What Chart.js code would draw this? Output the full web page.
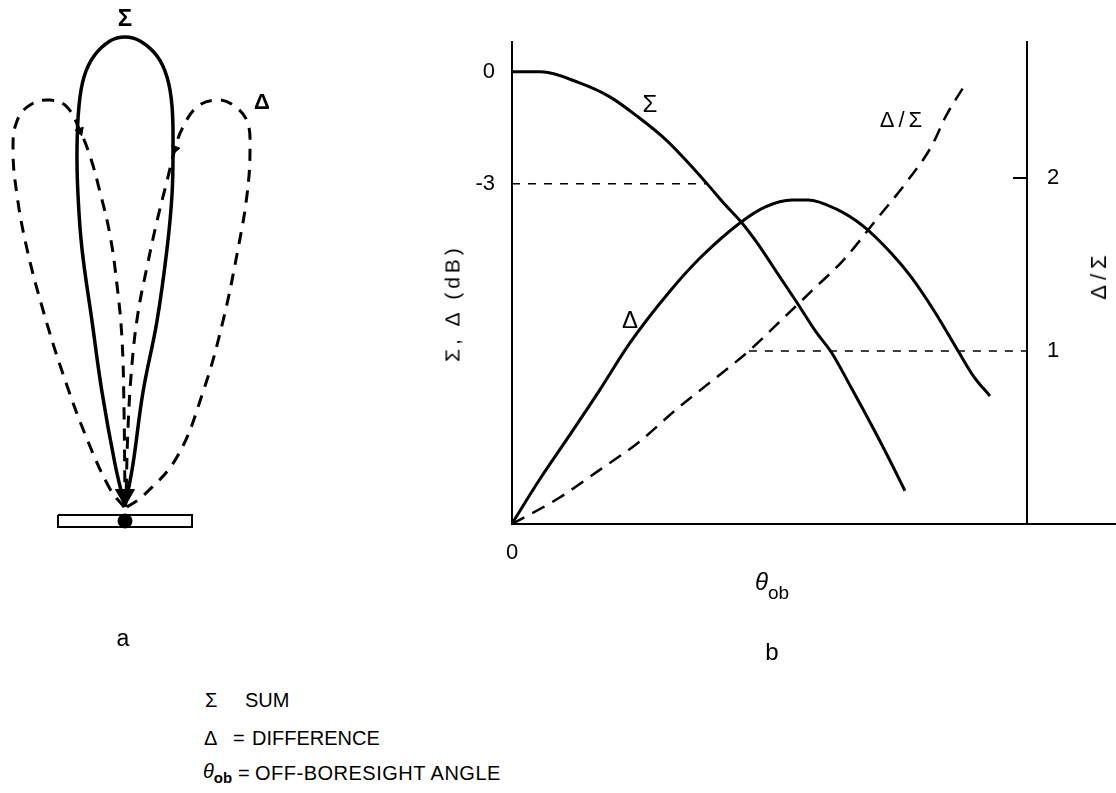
<!DOCTYPE html>
<html>
<head>
<meta charset="utf-8">
<script src="https://cdn.jsdelivr.net/npm/chart.js@4.4.0/dist/chart.umd.min.js"></script>
<style>
  html, body { margin: 0; padding: 0; background: #fff; }
  body { width: 1116px; height: 793px; position: relative; overflow: hidden;
         font-family: "Liberation Sans", Arial, sans-serif; color: #000; }
  canvas { position: absolute; }
  #lobes { left: 0; top: 0; }
  #curves { left: 380px; top: 0; }
  .t { position: absolute; transform: translate(-50%, -50%); white-space: nowrap; line-height: 1; }
  .l { position: absolute; white-space: nowrap; line-height: 1; font-size: 20px; }
  .rot { transform: translate(-50%, -50%) rotate(-90deg); }
</style>
</head>
<body>
<canvas id="lobes" width="300" height="560"></canvas>
<canvas id="curves" width="736" height="620"></canvas>

<!-- panel a labels -->
<div class="t" style="left:125px;top:18px;font-size:24px;font-weight:bold">Σ</div>
<div class="t" style="left:262px;top:102px;font-size:22px;font-weight:bold">Δ</div>
<div class="t" style="left:123px;top:638px;font-size:23px">a</div>

<!-- panel b labels -->
<div class="t" style="left:650px;top:104px;font-size:24px">Σ</div>
<div class="t" style="left:630px;top:320px;font-size:24px">Δ</div>
<div class="t" style="left:903px;top:120px;font-size:22px;letter-spacing:4px">Δ/Σ</div>
<div class="t rot" style="left:452px;top:303px;font-size:21px;letter-spacing:4px">Σ, Δ (dB)</div>
<div class="t rot" style="left:1099px;top:275px;font-size:22px;letter-spacing:5px">Δ/Σ</div>
<div class="t" style="left:772px;top:584px;font-size:24px"><i>θ</i><sub style="font-size:19px;position:relative;top:3px">ob</sub></div>
<div class="t" style="left:772px;top:652px;font-size:24px">b</div>

<!-- key -->
<div class="l" style="left:205px;top:690px">Σ</div>
<div class="l" style="left:245px;top:690px">SUM</div>
<div class="l" style="left:204px;top:728px">Δ</div>
<div class="l" style="left:233px;top:728px">=</div>
<div class="l" style="left:252px;top:728px">DIFFERENCE</div>
<div class="l" style="left:203px;top:761px"><i>θ</i><sub style="font-size:15px;font-weight:bold">ob</sub></div>
<div class="l" style="left:238px;top:763px">=</div>
<div class="l" style="left:255px;top:763px;letter-spacing:0.5px">OFF-BORESIGHT ANGLE</div>

<script>
// ---- panel a: antenna patterns (units: px beside / above the antenna) ----
const sigmaLobeX = [0, 8, 18, 32, 42, 47, 48, 47, 42, 32, 15, 0, -15, -31, -41, -46, -48, -47, -43, -33, -23, -10, 0];
const sigmaLobeY = [14, 57, 129, 200, 272, 326, 372, 415, 444, 465, 480, 484, 480, 465, 444, 415, 372, 326, 272, 200, 129, 57, 14];

const deltaLeftX = [-1, -15, -38, -62, -82, -98, -108, -112, -108, -95, -75, -58, -45, -35, -25, -15, -8, -3, -1, 0];
const deltaLeftY = [14, 32, 82, 147, 211, 272, 326, 372, 400, 416, 421, 414, 390, 365, 329, 286, 236, 182, 111, 21];

const deltaRightX = [2, 18, 52, 78, 98, 113, 122, 125, 122, 108, 92, 72, 57, 50, 42, 32, 22, 13, 7, 3, 1];
const deltaRightY = [14, 25, 64, 129, 200, 272, 326, 372, 400, 416, 421, 414, 392, 372, 340, 300, 254, 208, 157, 93, 21];

const antennaX = [-67, 67, 67, -67, -67];
const antennaY = [6, 6, -6, -6, 6];

// arrow heads
const arrowX = [0, -45, 50];
const arrowY = [26, 390, 372];
const arrowRot = [180, 160, 200];
const arrowSize = [11, 5, 5];

// ---- panel b: Σ, Δ (dB) and Δ/Σ vs θob ----
const sumTheta = [0, 0.56, 1.30, 1.90, 2.45, 2.99, 3.44, 3.79, 4.14, 4.45, 4.76, 5.20, 5.51, 5.90, 6.21, 6.58, 7.05, 7.36, 7.63];
const sumDb = [0, 0, -0.29, -0.67, -1.21, -1.82, -2.46, -3.0, -3.56, -4.02, -4.58, -5.49, -6.13, -6.96, -7.53, -8.44, -9.64, -10.47, -11.22];

const diffTheta = [0, 0.53, 1.07, 1.69, 2.29, 3.07, 3.67, 4.45, 4.91, 5.44, 5.75, 6.29, 6.82, 7.36, 7.75, 8.21, 8.66, 8.97, 9.28];
const diffDb = [-12.1, -10.93, -9.83, -8.55, -7.26, -5.87, -4.96, -4.02, -3.62, -3.43, -3.43, -3.67, -4.13, -4.85, -5.49, -6.43, -7.47, -8.17, -8.68];

const ratioTheta = [0, 0.91, 1.69, 2.45, 3.22, 3.98, 4.60, 5.20, 5.83, 6.45, 7.05, 7.67, 8.14, 8.43, 8.82];
const ratioVal = [0, 0.15, 0.31, 0.47, 0.67, 0.85, 1.0, 1.17, 1.35, 1.53, 1.75, 1.98, 2.18, 2.36, 2.55];

const minus3Theta = [0, 3.79];
const minus3Db = [-3, -3];
const ratioOneTheta = [4.6, 10];
const ratioOneVal = [1, 1];

const xTicks = [0];
const leftTicks = [0, -3];
const rightTicks = [1, 2];

const FONT = '"Liberation Sans", Arial, sans-serif';
const pts = (xs, ys) => xs.map((x, i) => ({ x: x, y: ys[i] }));

Chart.defaults.animation = false;
Chart.defaults.responsive = false;
Chart.defaults.color = '#000';

// panel a
new Chart(document.getElementById('lobes'), {
  type: 'scatter',
  data: {
    datasets: [
      { data: pts(sigmaLobeX, sigmaLobeY), showLine: true, borderColor: '#000', borderWidth: 3.5, pointRadius: 0, tension: 0.4 },
      { data: pts(deltaLeftX, deltaLeftY), showLine: true, borderColor: '#000', borderWidth: 3, borderDash: [12, 9], pointRadius: 0, tension: 0.4 },
      { data: pts(deltaRightX, deltaRightY), showLine: true, borderColor: '#000', borderWidth: 3, borderDash: [12, 9], pointRadius: 0, tension: 0.4 },
      { data: pts(antennaX, antennaY), showLine: true, borderColor: '#000', borderWidth: 2, pointRadius: 0, tension: 0 },
      { data: [{ x: 0, y: 0 }], pointRadius: 7, backgroundColor: '#000', borderColor: '#000' },
      { data: pts(arrowX, arrowY), pointStyle: 'triangle', pointRotation: arrowRot, pointRadius: arrowSize,
        backgroundColor: '#000', borderColor: '#000', borderWidth: 1 }
    ]
  },
  options: {
    layout: { padding: 0, autoPadding: false },
    plugins: { legend: { display: false }, tooltip: { enabled: false } },
    scales: {
      x: { display: false, min: -125, max: 175 },
      y: { display: false, min: -39, max: 521 }
    }
  }
});

// bottom axis runs on past the right axis; inward tick at 2
const axisExtras = {
  id: 'axisExtras',
  afterDraw(chart) {
    const { ctx, chartArea } = chart;
    const y1 = chart.scales.y1;
    ctx.save();
    ctx.strokeStyle = '#000';
    ctx.lineWidth = 2;
    ctx.beginPath();
    ctx.moveTo(chartArea.right, chartArea.bottom);
    ctx.lineTo(chart.width, chartArea.bottom);
    const py = y1.getPixelForValue(2);
    ctx.moveTo(chartArea.right - 14, py);
    ctx.lineTo(chartArea.right, py);
    ctx.stroke();
    ctx.restore();
  }
};

const solid = { showLine: true, borderColor: '#000', pointRadius: 0, cubicInterpolationMode: 'monotone' };
const tickFont = { family: FONT, size: 22 };

new Chart(document.getElementById('curves'), {
  type: 'scatter',
  data: {
    datasets: [
      { ...solid, data: pts(sumTheta, sumDb), yAxisID: 'y', borderWidth: 3 },
      { ...solid, data: pts(diffTheta, diffDb), yAxisID: 'y', borderWidth: 3 },
      { ...solid, data: pts(ratioTheta, ratioVal), yAxisID: 'y1', borderWidth: 2.5, borderDash: [14, 9] },
      { ...solid, data: pts(minus3Theta, minus3Db), yAxisID: 'y', borderWidth: 1.5, borderDash: [8, 8] },
      { ...solid, data: pts(ratioOneTheta, ratioOneVal), yAxisID: 'y1', borderWidth: 1.5, borderDash: [8, 8] }
    ]
  },
  options: {
    layout: { padding: { top: 42, left: 0, right: 0, bottom: 0 }, autoPadding: false },
    plugins: { legend: { display: false }, tooltip: { enabled: false } },
    scales: {
      x: {
        type: 'linear', min: 0, max: 10,
        grid: { display: false },
        border: { display: true, color: '#000', width: 2 },
        ticks: { padding: 8, font: tickFont, color: '#000' },
        afterBuildTicks: s => { s.ticks = xTicks.map(v => ({ value: v })); },
        afterFit: s => { s.height = 96; }
      },
      y: {
        position: 'left', min: -12.11, max: 0.8,
        grid: { display: false },
        border: { display: true, color: '#000', width: 2 },
        ticks: { padding: 9, font: tickFont, color: '#000' },
        afterBuildTicks: s => { s.ticks = leftTicks.map(v => ({ value: v })); },
        afterFit: s => { s.width = 132; }
      },
      y1: {
        position: 'right', min: 0, max: 2.786,
        grid: { display: false },
        border: { display: true, color: '#000', width: 2 },
        ticks: { padding: 12, font: tickFont, color: '#000' },
        afterBuildTicks: s => { s.ticks = rightTicks.map(v => ({ value: v })); },
        afterFit: s => { s.width = 89; }
      }
    }
  },
  plugins: [axisExtras]
});
</script>
</body>
</html>
